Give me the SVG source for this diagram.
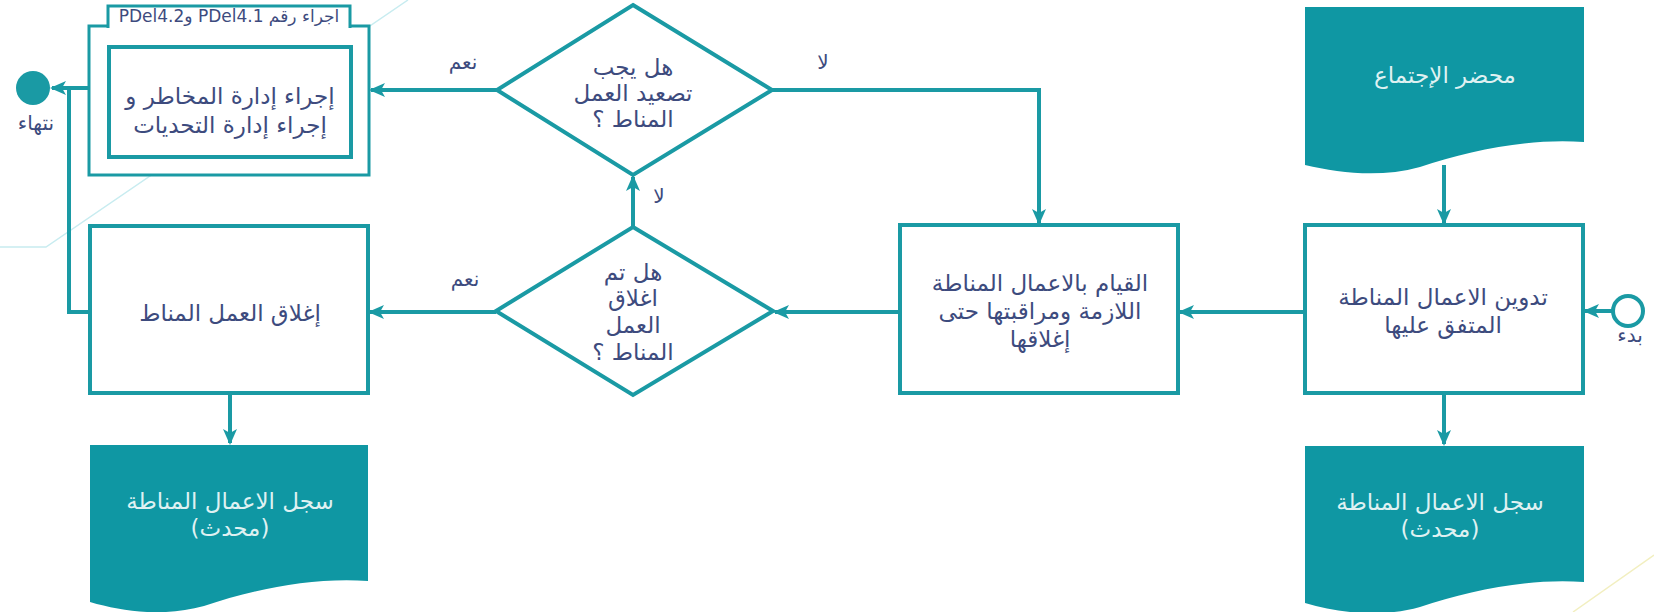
<svg xmlns="http://www.w3.org/2000/svg" width="1654" height="612" viewBox="0 0 1654 612">
<style>
.box{fill:#ffffff;stroke:#1a9aa4;stroke-width:4}
.sub{fill:#ffffff;stroke:#1a9aa4;stroke-width:3}
.doc{fill:#0f97a3;stroke:none}
.t{font-family:"DejaVu Sans",sans-serif;font-size:23px;fill:#3d4b7e;text-anchor:middle;direction:rtl}
.tw{font-family:"DejaVu Sans",sans-serif;font-size:23px;fill:#dff1f2;text-anchor:middle;direction:rtl}
.lbl{font-family:"DejaVu Sans",sans-serif;font-size:20px;fill:#3d4b7e;text-anchor:middle;direction:rtl}
.c{fill:none;stroke:#1a9aa4;stroke-width:4}
.bg{fill:none;stroke-width:1.5}
</style>
<defs>
<marker id="ah" markerUnits="userSpaceOnUse" markerWidth="16" markerHeight="16" viewBox="0 0 16 16" refX="14" refY="8" orient="auto">
<path d="M0,1 L16,8 L0,15 L4,8 Z" fill="#1a9aa4"/>
</marker>
</defs>
<rect x="0" y="0" width="1654" height="612" fill="#ffffff"/>
<g id="background">
<polyline class="bg" stroke="#c8ecf0" points="0,247 46,247 408,0"/>
<line class="bg" stroke="#f2efc0" x1="1654" y1="555" x2="1573" y2="612"/>
</g>

<g id="connectors">
<line class="c" x1="1613" y1="311" x2="1585" y2="311" marker-end="url(#ah)"/>
<line class="c" x1="1444" y1="165" x2="1444" y2="223" marker-end="url(#ah)"/>
<line class="c" x1="1444" y1="393" x2="1444" y2="444" marker-end="url(#ah)"/>
<line class="c" x1="1305" y1="312" x2="1180" y2="312" marker-end="url(#ah)"/>
<line class="c" x1="900" y1="312" x2="775" y2="312" marker-end="url(#ah)"/>
<line class="c" x1="496" y1="312" x2="370" y2="312" marker-end="url(#ah)"/>
<line class="c" x1="633" y1="227" x2="633" y2="177" marker-end="url(#ah)"/>
<polyline class="c" points="772,90 1039,90 1039,223" marker-end="url(#ah)"/>
<line class="c" x1="497" y1="90" x2="371" y2="90" marker-end="url(#ah)"/>
<line class="c" x1="89" y1="88" x2="52" y2="88" marker-end="url(#ah)"/>
<polyline class="c" points="90,312 69,312 69,88"/>
<line class="c" x1="230" y1="393" x2="230" y2="443" marker-end="url(#ah)"/>
<text class="lbl" x="463" y="69">نعم</text>
<text class="lbl" x="823" y="69">لا</text>
<text class="lbl" x="659" y="203">لا</text>
<text class="lbl" x="465" y="286">نعم</text>
</g>

<g id="start">
<circle cx="1628" cy="311" r="15" fill="#ffffff" stroke="#1a9aa4" stroke-width="4"/>
<text class="lbl" x="1630" y="342">بدء</text>
</g>

<g id="end">
<circle cx="33" cy="88" r="17" fill="#1a9aa4"/>
<text class="lbl" x="36" y="130">نتهاء</text>
</g>

<g id="doc-minutes">
<path class="doc" d="M1305,7 H1584 V142 C1530,138 1470,150 1420,167 C1380,178 1340,173 1305,165 Z"/>
<text class="tw" x="1445" y="83">محضر الإجتماع</text>
</g>

<g id="record-right">
<path class="doc" d="M1305,446 H1584 V582 C1530,578 1470,590 1420,607 C1380,618 1340,613 1305,603 Z"/>
<text class="tw" x="1440" y="510">سجل الاعمال المناطة</text>
<text class="tw" x="1440" y="537">(محدث)</text>
</g>

<g id="record-left">
<path class="doc" d="M90,445 H368 V581 C314,577 254,589 204,606 C164,617 124,612 90,602 Z"/>
<text class="tw" x="230" y="509">سجل الاعمال المناطة</text>
<text class="tw" x="230" y="536">(محدث)</text>
</g>

<g id="record-actions">
<rect class="box" x="1305" y="225" width="278" height="168"/>
<text class="t" x="1443" y="305">تدوين الاعمال المناطة</text>
<text class="t" x="1443" y="333">المتفق عليها</text>
</g>

<g id="perform-actions">
<rect class="box" x="900" y="225" width="278" height="168"/>
<text class="t" x="1040" y="291">القيام بالاعمال المناطة</text>
<text class="t" x="1040" y="319">اللازمة ومراقبتها حتى</text>
<text class="t" x="1040" y="347">إغلاقها</text>
</g>

<g id="decision-closed">
<polygon class="box" points="633,227 773,311 633,395 496,311"/>
<text class="t" x="633" y="280">هل تم</text>
<text class="t" x="633" y="306">اغلاق</text>
<text class="t" x="633" y="333">العمل</text>
<text class="t" x="633" y="360">المناط ؟</text>
</g>

<g id="close-action">
<rect class="box" x="90" y="226" width="278" height="167"/>
<text class="t" x="230" y="321">إغلاق العمل المناط</text>
</g>

<g id="decision-escalate">
<polygon class="box" points="633,5 772,90 633,175 497,90"/>
<text class="t" x="633" y="75">هل يجب</text>
<text class="t" x="633" y="101">تصعيد العمل</text>
<text class="t" x="633" y="127">المناط ؟</text>
</g>

<g id="subprocess">
<rect class="sub" x="89" y="26" width="280" height="149"/>
<path class="sub" d="M108,28 V6 H350 V28"/>
<rect class="box" x="109" y="47" width="242" height="110"/>
<text class="lbl" x="229" y="22" style="font-size:17px">اجراء رقم PDel4.1 وPDel4.2</text>
<text class="t" x="230" y="104">إجراء إدارة المخاطر و</text>
<text class="t" x="230" y="133">إجراء إدارة التحديات</text>
</g>
</svg>
